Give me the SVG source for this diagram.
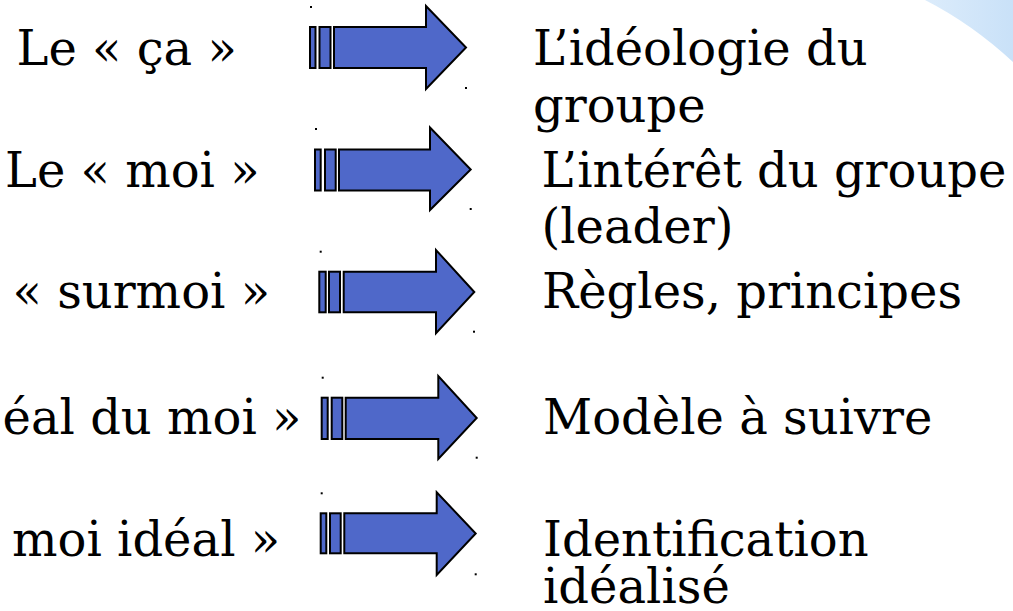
<svg xmlns="http://www.w3.org/2000/svg" width="1013" height="611" viewBox="0 0 1013 611">
<defs>
<linearGradient id="bg" x1="0" y1="0" x2="1" y2="0">
<stop offset="0" stop-color="#dcecfb"/>
<stop offset="1" stop-color="#c9e1f8"/>
</linearGradient>
</defs>
<style>
text{font-family:"DejaVu Serif","Liberation Serif",serif;font-size:48px;fill:#000}
.a{fill:#4f68c9;stroke:#000;stroke-width:2;stroke-linejoin:miter}
.h{fill:#000}
</style>
<rect width="1013" height="611" fill="#fff"/>
<path d="M925,0 Q972,24 1013,62 L1013,0 Z" fill="url(#bg)"/>
<g id="labels-left">
<g id="n1l"><text x="16.5" y="65">Le « ça »</text></g>
<g id="n2l"><text x="5" y="187">Le « moi »</text></g>
<g id="n3l"><text x="12.5" y="308">« surmoi »</text></g>
<g id="n4l"><text x="2.5" y="434">éal du moi »</text></g>
<g id="n5l"><text x="12" y="556">moi idéal »</text></g>
</g>
<g id="labels-right">
<g id="n1r"><text x="533" y="65">L’idéologie du<tspan x="533" y="122">groupe</tspan></text></g>
<g id="n2r"><text x="541.5" y="187">L’intérêt du groupe<tspan x="541.5" y="243">(leader)</tspan></text></g>
<g id="n3r"><text x="542" y="308">Règles, principes</text></g>
<g id="n4r"><text x="543" y="434">Modèle à suivre</text></g>
<g id="n5r"><text x="543" y="556">Identification<tspan x="543" y="603">idéalisé</tspan></text></g>
</g>
<g id="connectors">
<g id="arrow1">
<rect class="a" x="310" y="27" width="5.5" height="41"/>
<rect class="a" x="319.5" y="27" width="11" height="41"/>
<path class="a" d="M334,27 H426 V6 L466,47.5 L426,89 V68 H334 Z"/>
<rect class="h" x="310" y="6" width="2" height="2"/>
<rect class="h" x="465" y="87" width="2" height="2"/>
</g>
<g id="arrow2">
<rect class="a" x="315" y="149.5" width="5.7" height="41"/>
<rect class="a" x="325" y="149.5" width="10.7" height="41"/>
<path class="a" d="M339,149.5 H430 V127.5 L470.7,169.5 L430,210 V190.5 H339 Z"/>
<rect class="h" x="315" y="128" width="2" height="2"/>
<rect class="h" x="469.7" y="208" width="2" height="2"/>
</g>
<g id="arrow3">
<rect class="a" x="319.3" y="271.7" width="6.4" height="40.6"/>
<rect class="a" x="329" y="271.7" width="11" height="40.6"/>
<path class="a" d="M343.7,271.7 H436 V250 L474.3,292 L436,333.3 V312.3 H343.7 Z"/>
<rect class="h" x="319.7" y="250.7" width="2" height="2"/>
<rect class="h" x="473" y="330.7" width="2" height="2"/>
</g>
<g id="arrow4">
<rect class="a" x="321.7" y="397.7" width="6" height="41.3"/>
<rect class="a" x="331.7" y="397.7" width="10.6" height="41.3"/>
<path class="a" d="M345.7,397.7 H438.3 V376 L476.7,418 L438.3,459 V439 H345.7 Z"/>
<rect class="h" x="321.7" y="376.7" width="2" height="2"/>
<rect class="h" x="475.7" y="456.7" width="2" height="2"/>
</g>
<g id="arrow5">
<rect class="a" x="320.7" y="513.3" width="5.6" height="40"/>
<rect class="a" x="330" y="513.3" width="10.7" height="40"/>
<path class="a" d="M344.3,513.3 H436.7 V492.3 L475.7,533.5 L436.7,575 V553.3 H344.3 Z"/>
<rect class="h" x="320.7" y="492.3" width="2" height="2"/>
<rect class="h" x="474.7" y="573.3" width="2" height="2"/>
</g>
</g>
</svg>
